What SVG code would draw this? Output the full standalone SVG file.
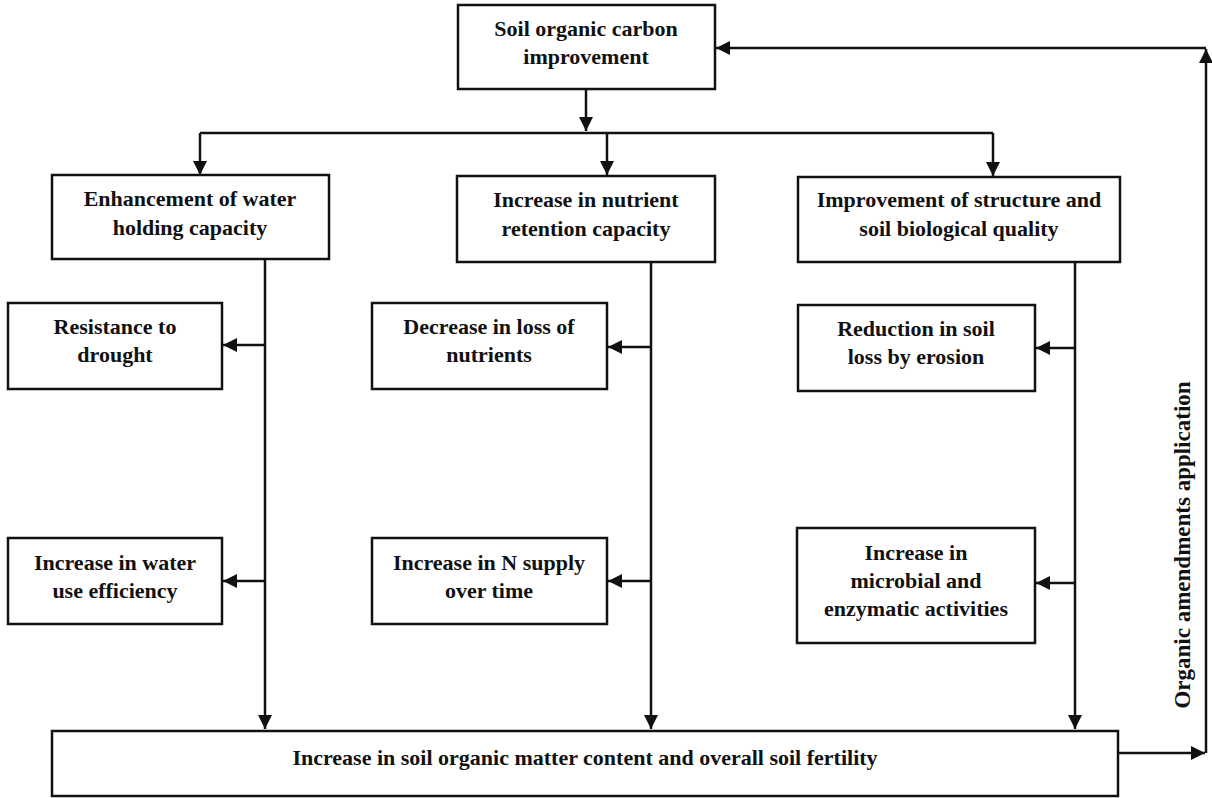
<svg xmlns="http://www.w3.org/2000/svg" width="1212" height="798" viewBox="0 0 1212 798">
<style>
.box{fill:#fff;stroke:#111;stroke-width:2.5}
.t{font-family:"Liberation Serif","Times New Roman",serif;font-weight:bold;font-size:22px;fill:#111;text-anchor:middle}
.c{fill:none;stroke:#111;stroke-width:2.5}
</style>
<defs>
<marker id="ah" viewBox="0 0 10 10" refX="10" refY="5" markerWidth="14" markerHeight="14" markerUnits="userSpaceOnUse" orient="auto">
<path d="M0,0 L10,5 L0,10 z" fill="#111"/>
</marker>
</defs>
<rect width="1212" height="798" fill="#fff"/>
<g id="connectors">
<path class="c" d="M586,89 V131" marker-end="url(#ah)"/>
<path class="c" d="M200,133 H993"/>
<path class="c" d="M200,133 V175" marker-end="url(#ah)"/>
<path class="c" d="M607,133 V175" marker-end="url(#ah)"/>
<path class="c" d="M993,133 V176" marker-end="url(#ah)"/>
<path class="c" d="M265,259 V729" marker-end="url(#ah)"/>
<path class="c" d="M265,345 H223" marker-end="url(#ah)"/>
<path class="c" d="M265,581 H223" marker-end="url(#ah)"/>
<path class="c" d="M651,262 V729" marker-end="url(#ah)"/>
<path class="c" d="M651,347 H608" marker-end="url(#ah)"/>
<path class="c" d="M651,581 H608" marker-end="url(#ah)"/>
<path class="c" d="M1075,262 V729" marker-end="url(#ah)"/>
<path class="c" d="M1075,348 H1036" marker-end="url(#ah)"/>
<path class="c" d="M1075,583 H1036" marker-end="url(#ah)"/>
<path class="c" d="M1118,753 H1205" marker-end="url(#ah)"/>
<path class="c" d="M1206,753 V49" marker-end="url(#ah)"/>
<path class="c" d="M1206,48 H716" marker-end="url(#ah)"/>
<text class="t" style="font-size:23px" transform="translate(1190,545) rotate(-90)">Organic amendments application</text>
</g>
<g id="n-soc">
<rect class="box" x="458" y="5" width="257" height="84"/>
<text class="t" x="586" y="36">Soil organic carbon</text>
<text class="t" x="586" y="64">improvement</text>
</g>
<g id="n-water">
<rect class="box" x="52" y="175" width="277" height="84"/>
<text class="t" x="190" y="206">Enhancement of water</text>
<text class="t" x="190" y="235">holding capacity</text>
</g>
<g id="n-nutrient">
<rect class="box" x="457" y="176" width="258" height="86"/>
<text class="t" x="586" y="207">Increase in nutrient</text>
<text class="t" x="586" y="236">retention capacity</text>
</g>
<g id="n-structure">
<rect class="box" x="798" y="177" width="322" height="85"/>
<text class="t" x="959" y="207">Improvement of structure and</text>
<text class="t" x="959" y="236">soil biological quality</text>
</g>
<g id="n-drought">
<rect class="box" x="8" y="303" width="214" height="86"/>
<text class="t" x="115" y="334">Resistance to</text>
<text class="t" x="115" y="362">drought</text>
</g>
<g id="n-loss">
<rect class="box" x="372" y="303" width="235" height="86"/>
<text class="t" x="489" y="334">Decrease in loss of</text>
<text class="t" x="489" y="362">nutrients</text>
</g>
<g id="n-erosion">
<rect class="box" x="798" y="305" width="237" height="86"/>
<text class="t" x="916" y="336">Reduction in soil</text>
<text class="t" x="916" y="364">loss by erosion</text>
</g>
<g id="n-wue">
<rect class="box" x="8" y="538" width="214" height="86"/>
<text class="t" x="115" y="570">Increase in water</text>
<text class="t" x="115" y="598">use efficiency</text>
</g>
<g id="n-nsupply">
<rect class="box" x="372" y="538" width="235" height="86"/>
<text class="t" x="489" y="570">Increase in N supply</text>
<text class="t" x="489" y="598">over time</text>
</g>
<g id="n-microbial">
<rect class="box" x="797" y="528" width="238" height="115"/>
<text class="t" x="916" y="560">Increase in</text>
<text class="t" x="916" y="588">microbial and</text>
<text class="t" x="916" y="616">enzymatic activities</text>
</g>
<g id="n-fertility">
<rect class="box" x="52" y="731" width="1066" height="65"/>
<text class="t" x="585" y="765">Increase in soil organic matter content and overall soil fertility</text>
</g>
</svg>
